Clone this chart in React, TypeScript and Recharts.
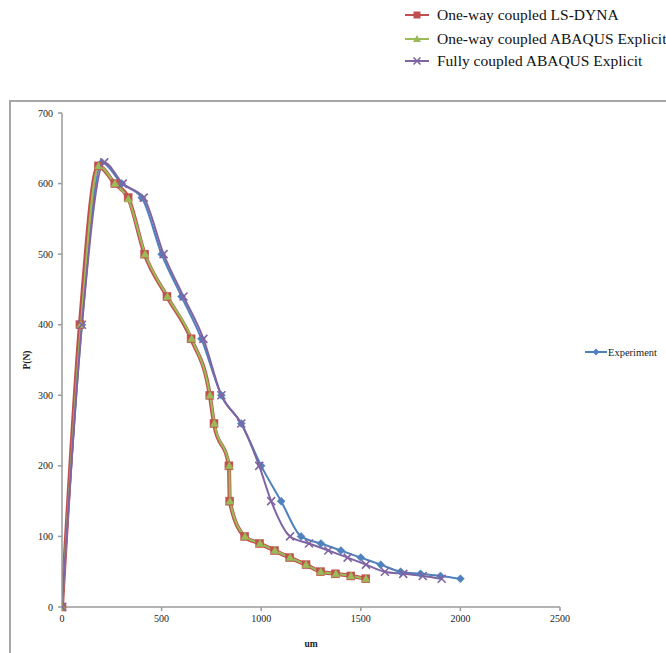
import React from 'react';
import { LineChart, Line, XAxis, YAxis, Label } from 'recharts';

const expX = [0, 100, 200, 300, 400, 500, 600, 700, 800, 900, 1000, 1100, 1200, 1300, 1400, 1500, 1600, 1700, 1800, 1900, 2000];
const expY = [0, 400, 630, 600, 580, 500, 440, 380, 300, 260, 200, 150, 100, 90, 80, 70, 60, 50, 47, 44, 40];

const lsX = [0, 90, 182, 265, 332, 415, 527, 648, 742, 763, 838, 842, 917, 992, 1067, 1143, 1225, 1298, 1373, 1450, 1525];
const lsY = [0, 400, 625, 600, 580, 500, 440, 380, 300, 260, 200, 150, 100, 90, 80, 70, 60, 50, 47, 44, 40];

const abX = [0, 95, 184, 266, 333, 417, 529, 651, 743, 765, 840, 843, 919, 994, 1069, 1145, 1225, 1299, 1375, 1451, 1526];
const abY = [0, 400, 625, 600, 578, 500, 440, 380, 300, 260, 200, 150, 100, 90, 80, 70, 60, 50, 47, 44, 40];

const fullX = [0, 100, 212, 305, 410, 510, 610, 710, 800, 900, 990, 1050, 1145, 1240, 1337, 1434, 1526, 1621, 1713, 1811, 1906];
const fullY = [0, 400, 630, 600, 580, 500, 440, 380, 300, 260, 200, 150, 100, 90, 80, 70, 60, 50, 47, 44, 40];

const xTicks = [0, 500, 1000, 1500, 2000, 2500];
const yTicks = [0, 100, 200, 300, 400, 500, 600, 700];

const zip = (xs: number[], ys: number[]) => xs.map((x, i) => ({ x, y: ys[i] }));

const expData = zip(expX, expY);
const lsData = zip(lsX, lsY);
const abData = zip(abX, abY);
const fullData = zip(fullX, fullY);

const BLUE = '#4f81bd';
const RED = '#c0504d';
const GREEN = '#9bbb59';
const PURPLE = '#8064a2';

const Diamond = (props: any) => {
  const { cx, cy } = props;
  if (cx == null || cy == null) return null;
  const r = 4;
  return <path d={`M${cx},${cy - r}L${cx + r},${cy}L${cx},${cy + r}L${cx - r},${cy}Z`} fill={BLUE} stroke={BLUE} strokeWidth={0.5} />;
};
const Square = (props: any) => {
  const { cx, cy } = props;
  if (cx == null || cy == null) return null;
  const r = 4;
  return <rect x={cx - r} y={cy - r} width={2 * r} height={2 * r} fill={RED} stroke={RED} strokeWidth={0.5} />;
};
const Tri = (props: any) => {
  const { cx, cy } = props;
  if (cx == null || cy == null) return null;
  const r = 4;
  return <path d={`M${cx},${cy - r}L${cx + r},${cy + r - 1}L${cx - r},${cy + r - 1}Z`} fill={GREEN} stroke={GREEN} strokeWidth={0.5} />;
};
const Cross = (props: any) => {
  const { cx, cy } = props;
  if (cx == null || cy == null) return null;
  const r = 4;
  return <path d={`M${cx - r},${cy - r}L${cx + r},${cy + r}M${cx + r},${cy - r}L${cx - r},${cy + r}`} stroke={PURPLE} strokeWidth={1.6} fill="none" />;
};

const serif = '"Liberation Serif", "Times New Roman", serif';

const LegendRow = ({ color, label, marker, top }: { color: string; label: string; marker: string; top: number }) => (
  <div style={{ position: 'absolute', left: 404, top, height: 18, display: 'flex', alignItems: 'center' }}>
    <svg width={26} height={12} style={{ marginRight: 7 }}>
      <line x1={1} y1={6} x2={25} y2={6} stroke={color} strokeWidth={2} />
      {marker === 'square' && <rect x={9.5} y={2.5} width={7} height={7} fill={color} />}
      {marker === 'tri' && <path d="M13,2L17,9L9,9Z" fill={color} />}
      {marker === 'cross' && <path d="M9.5,2.5L16.5,9.5M16.5,2.5L9.5,9.5" stroke={color} strokeWidth={1.6} />}
    </svg>
    <span style={{ fontFamily: serif, fontSize: 15.5, color: '#111', whiteSpace: 'nowrap' }}>{label}</span>
  </div>
);

export default function App() {
  return (
    <div style={{ position: 'absolute', left: 0, top: 0, width: 666, height: 653, overflow: 'hidden', background: '#fff' }}>
      <LegendRow color={RED} label="One-way coupled LS-DYNA" marker="square" top={6} />
      <LegendRow color={GREEN} label="One-way coupled ABAQUS Explicit" marker="tri" top={30} />
      <LegendRow color={PURPLE} label="Fully coupled ABAQUS Explicit" marker="cross" top={52} />
      <div style={{ position: 'absolute', left: 9, top: 100, width: 720, height: 700, border: '2px solid #a6a6a6' }} />
      <div style={{ position: 'absolute', left: 0, top: 0 }}>
        <LineChart width={666} height={653} margin={{ top: 113, right: 106, bottom: 16, left: 0 }}>
          <XAxis
            type="number"
            dataKey="x"
            domain={[0, 2500]}
            ticks={xTicks}
            allowDataOverflow
            height={30}
            stroke="#9a9a9a"
            strokeWidth={1.5}
            tickSize={4}
            tickMargin={4}
            tick={{ fontFamily: serif, fontSize: 10, fill: '#222' }}
          >
            <Label value="um" position="insideBottom" offset={-10} style={{ fontFamily: serif, fontSize: 9.5, fontWeight: 'bold', fill: '#222' }} />
          </XAxis>
          <YAxis
            type="number"
            dataKey="y"
            domain={[0, 700]}
            ticks={yTicks}
            width={62}
            stroke="#9a9a9a"
            strokeWidth={1.5}
            tickSize={4}
            tickMargin={5}
            tick={{ fontFamily: serif, fontSize: 10, fill: '#222' }}
          >
            <Label value="P(N)" angle={-90} position="insideLeft" offset={27} style={{ fontFamily: serif, fontSize: 9.5, fontWeight: 'bold', fill: '#222', textAnchor: 'middle' }} />
          </YAxis>
          <Line data={expData} dataKey="y" type="monotone" stroke={BLUE} strokeWidth={2} dot={<Diamond />} isAnimationActive={false} legendType="none" />
          <Line data={lsData} dataKey="y" type="monotone" stroke={RED} strokeWidth={4} dot={<Square />} isAnimationActive={false} legendType="none" />
          <Line data={abData} dataKey="y" type="monotone" stroke={GREEN} strokeWidth={2} dot={<Tri />} isAnimationActive={false} legendType="none" />
          <Line data={fullData} dataKey="y" type="monotone" stroke={PURPLE} strokeWidth={2} dot={<Cross />} isAnimationActive={false} legendType="none" />
        </LineChart>
      </div>
      <div style={{ position: 'absolute', left: 585, top: 345, height: 14, display: 'flex', alignItems: 'center' }}>
        <svg width={22} height={10} style={{ marginRight: 1 }}>
          <line x1={0} y1={5} x2={22} y2={5} stroke={BLUE} strokeWidth={2} />
          <path d="M11,1.5L14.5,5L11,8.5L7.5,5Z" fill={BLUE} />
        </svg>
        <span style={{ fontFamily: serif, fontSize: 10.5, color: '#222', whiteSpace: 'nowrap' }}>Experiment</span>
      </div>
    </div>
  );
}
